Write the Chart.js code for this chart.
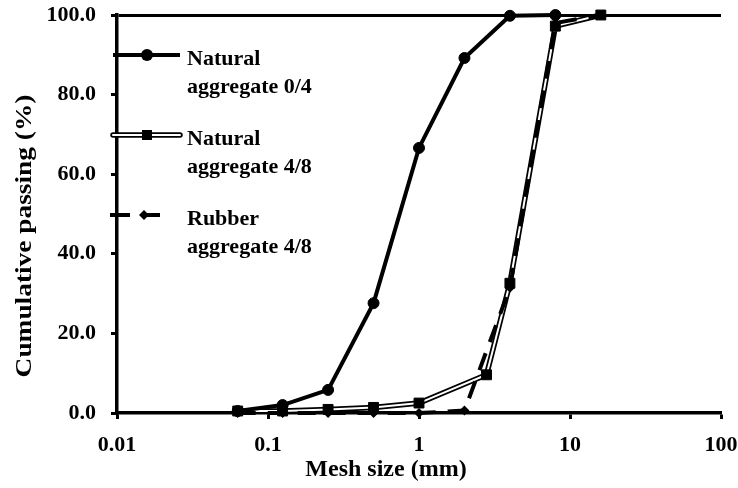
<!DOCTYPE html>
<html>
<head>
<meta charset="utf-8">
<script src="https://cdn.jsdelivr.net/npm/chart.js@4/dist/chart.umd.min.js"></script>
<style>
  html, body { margin: 0; padding: 0; background: #fff; }
  #wrap { width: 738px; height: 488px; position: relative; }
</style>
</head>
<body>
<div id="wrap"><canvas id="c" width="738" height="488"></canvas></div>
<script>
// ---- data ----
const sizesNat04 = [0.063, 0.125, 0.25, 0.5, 1, 2, 4, 8];
const passNat04  = [0.5, 2.0, 5.8, 27.6, 66.6, 89.2, 99.8, 100];

const sizesNat48 = [0.063, 0.125, 0.25, 0.5, 1, 2.8, 4, 8, 16];
const passNat48  = [0.5, 0.5, 0.9, 1.4, 2.5, 9.6, 32.6, 97.2, 100];

const sizesRub48 = [0.063, 0.125, 0.25, 0.5, 1, 2, 4, 8, 16];
const passRub48  = [0, 0, 0, 0, 0, 0.6, 31.5, 98, 100];

const xTickValues = [0.01, 0.1, 1, 10, 100];
const xTickLabels = ['0.01', '0.1', '1', '10', '100'];
const yTickValues = [0, 20, 40, 60, 80, 100];

const legendNames = [['Natural', 'aggregate 0/4'], ['Natural', 'aggregate 4/8'], ['Rubber', 'aggregate 4/8']];
const xTitle = 'Mesh size (mm)';
const yTitle = 'Cumulative passing (%)';

const FONT = "'Liberation Serif', 'Times New Roman', serif";

function pts(xs, ys) { return xs.map((x, i) => ({ x: x, y: ys[i] })); }

// ---- custom legend (multi-line labels, double-line sample) ----
const legendPlugin = {
  id: 'customLegend',
  afterDraw(chart) {
    const ctx = chart.ctx;
    ctx.save();
    const items = [
      { y: 55, kind: 'solid' },
      { y: 135, kind: 'double' },
      { y: 215, kind: 'dash' }
    ];
    const x0 = 113, x1 = 180, mx = 147;
    items.forEach((it, i) => {
      ctx.setLineDash([]);
      if (it.kind === 'solid') {
        ctx.strokeStyle = '#000'; ctx.lineWidth = 4;
        ctx.beginPath(); ctx.moveTo(x0, it.y); ctx.lineTo(x1, it.y); ctx.stroke();
        ctx.fillStyle = '#000';
        ctx.beginPath(); ctx.arc(mx, it.y, 6, 0, Math.PI * 2); ctx.fill();
      } else if (it.kind === 'double') {
        ctx.lineCap = 'round';
        ctx.strokeStyle = '#000'; ctx.lineWidth = 5.5;
        ctx.beginPath(); ctx.moveTo(x0, it.y); ctx.lineTo(x1, it.y); ctx.stroke();
        ctx.strokeStyle = '#fff'; ctx.lineWidth = 2;
        ctx.beginPath(); ctx.moveTo(x0, it.y); ctx.lineTo(x1, it.y); ctx.stroke();
        ctx.lineCap = 'butt';
        ctx.fillStyle = '#000';
        ctx.fillRect(mx - 5, it.y - 5, 10, 10);
      } else {
        ctx.strokeStyle = '#000'; ctx.lineWidth = 4;
        ctx.beginPath(); ctx.moveTo(110, it.y); ctx.lineTo(130, it.y); ctx.stroke();
        ctx.beginPath(); ctx.moveTo(144, it.y); ctx.lineTo(160, it.y); ctx.stroke();
        ctx.fillStyle = '#000';
        ctx.beginPath();
        ctx.moveTo(144 - 5, it.y); ctx.lineTo(144, it.y - 5); ctx.lineTo(144 + 5, it.y); ctx.lineTo(144, it.y + 5);
        ctx.closePath(); ctx.fill();
      }
      ctx.fillStyle = '#000';
      ctx.font = 'bold 22px ' + FONT;
      ctx.textAlign = 'left';
      ctx.textBaseline = 'alphabetic';
      ctx.fillText(legendNames[i][0], 187, it.y + 10);
      ctx.fillText(legendNames[i][1], 187, it.y + 38);
    });
    ctx.restore();
  }
};

// ---- axis titles (placed like the reference) ----
const titlesPlugin = {
  id: 'axisTitles',
  afterDraw(chart) {
    const ctx = chart.ctx;
    ctx.save();
    ctx.fillStyle = '#000';
    ctx.textAlign = 'center';
    ctx.textBaseline = 'middle';
    // x title
    ctx.font = 'bold 24px ' + FONT;
    ctx.fillText(xTitle, 386, 470);
    // y title (slightly elongated)
    ctx.translate(25, 236);
    ctx.rotate(-Math.PI / 2);
    ctx.scale(1.14, 1);
    ctx.font = 'bold 24px ' + FONT;
    ctx.fillText(yTitle, 0, 0);
    ctx.restore();
  }
};

new Chart(document.getElementById('c'), {
  type: 'scatter',
  data: {
    datasets: [
      {
        label: 'Rubber aggregate 4/8',
        data: pts(sizesRub48, passRub48),
        showLine: true,
        borderColor: '#000',
        borderWidth: 4,
        borderDash: [18, 12],
        pointStyle: 'rectRot',
        pointRadius: 5,
        pointBackgroundColor: '#000',
        pointBorderColor: '#000',
        pointBorderWidth: 0,
        tension: 0,
        clip: false,
        order: 0
      },
      {
        label: 'Natural aggregate 0/4',
        data: pts(sizesNat04, passNat04),
        showLine: true,
        borderColor: '#000',
        borderWidth: 4,
        pointStyle: 'circle',
        pointRadius: 5.5,
        pointBackgroundColor: '#000',
        pointBorderColor: '#000',
        pointBorderWidth: 1,
        tension: 0,
        clip: false,
        order: 1
      },
      {
        label: 'Natural aggregate 4/8',
        data: pts(sizesNat48, passNat48),
        showLine: true,
        borderColor: '#fff',
        borderWidth: 2,
        pointStyle: 'rect',
        pointRadius: 7,
        pointBackgroundColor: '#000',
        pointBorderColor: '#000',
        pointBorderWidth: 1,
        tension: 0,
        clip: false,
        order: 2
      },
      {
        label: 'Natural aggregate 4/8 outline',
        data: pts(sizesNat48, passNat48),
        showLine: true,
        borderColor: '#000',
        borderWidth: 5.5,
        pointRadius: 0,
        tension: 0,
        clip: false,
        order: 3
      }
    ]
  },
  options: {
    responsive: false,
    animation: false,
    devicePixelRatio: 1,
    layout: { padding: { top: 15, right: 17, left: 0, bottom: 0 } },
    plugins: {
      legend: { display: false },
      tooltip: { enabled: false }
    },
    scales: {
      x: {
        type: 'logarithmic',
        min: 0.01,
        max: 100,
        afterBuildTicks(scale) {
          scale.ticks = xTickValues.map(v => ({ value: v }));
        },
        afterFit(scale) {
          scale.height = 75;
          scale.paddingLeft = 0; scale.paddingRight = 0;
        },
        ticks: {
          autoSkip: false,
          maxRotation: 0,
          padding: 13,
          color: '#000',
          font: { family: FONT, size: 22, weight: 'bold' },
          callback(value) {
            const i = xTickValues.indexOf(value);
            return i >= 0 ? xTickLabels[i] : '';
          }
        },
        grid: {
          drawOnChartArea: false,
          drawTicks: true,
          tickLength: 6,
          tickWidth: 3,
          tickColor: '#000'
        },
        border: { display: true, color: '#000', width: 3.5 },
        title: { display: false }
      },
      y: {
        type: 'linear',
        min: 0,
        max: 100,
        afterBuildTicks(scale) {
          scale.ticks = yTickValues.map(v => ({ value: v }));
        },
        afterFit(scale) {
          scale.width = 117;
          scale.paddingTop = 0; scale.paddingBottom = 0;
        },
        ticks: {
          padding: 15,
          color: '#000',
          font: { family: FONT, size: 22, weight: 'bold' },
          callback(value) { return Number(value).toFixed(1); }
        },
        grid: {
          drawOnChartArea: true,
          drawTicks: true,
          tickLength: 6,
          tickWidth: 3,
          tickColor: '#000',
          lineWidth: 3,
          color(c) { return (c.tick && c.tick.value === 100) ? '#000' : 'rgba(0,0,0,0)'; }
        },
        border: { display: true, color: '#000', width: 3.5 },
        title: { display: false }
      }
    }
  },
  plugins: [legendPlugin, titlesPlugin]
});
</script>
</body>
</html>
